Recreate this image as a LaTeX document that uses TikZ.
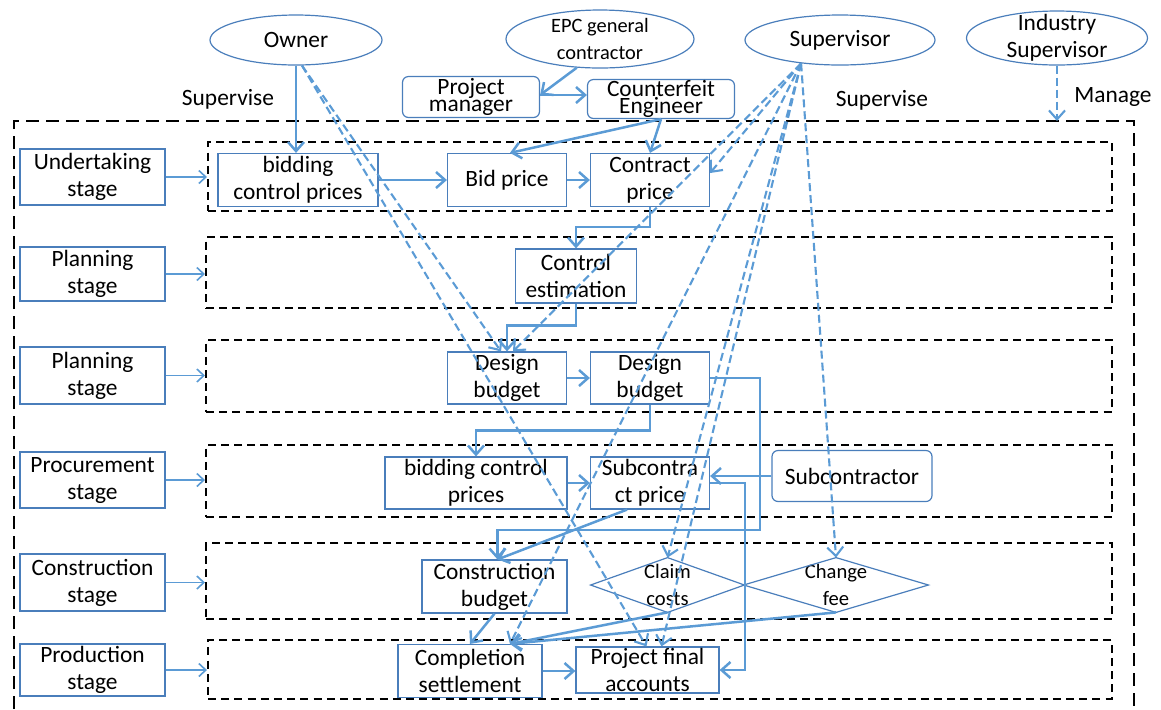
\documentclass[tikz,border=0pt]{standalone}
\usepackage{fontspec}
\setmainfont{Carlito}
\usetikzlibrary{arrows.meta,calc,shapes.geometric}
\definecolor{lblue}{HTML}{5B9BD5}
\definecolor{bblue}{HTML}{4A7EBB}
\tikzset{
  sz/.style 2 args={minimum width=#1*0.5pt,minimum height=#2*0.5pt},
  box/.style={draw=bblue,line width=0.6pt,inner sep=0pt,align=center,text=black},
  rbox/.style={box,rounded corners=3pt},
  ell/.style={box,ellipse},
  dtext/.style={inner sep=0pt,align=center,font=\fontsize{10.3}{13.5}\selectfont},
  dia/.style={draw=bblue,line width=0.6pt},
  grp/.style={draw=black,line width=1pt,dash pattern=on 4pt off 2.6pt,inner sep=0pt},
  outer/.style={draw=black,line width=1.25pt,dash pattern=on 6.5pt off 3.5pt},
  conn/.style={draw=lblue,line width=1.25pt,-{Straight Barb[length=4.5pt,width=8pt]}},
  sconn/.style={draw=lblue,line width=0.8pt,-{Straight Barb[length=3.5pt,width=6.5pt]}},
  dconn/.style={conn,line width=1.05pt,dash pattern=on 4pt off 2pt},
  lbl/.style={inner sep=0pt}
}
\begin{document}
\begin{tikzpicture}[x=0.5pt,y=-0.5pt,font=\fontsize{11.7}{13.5}\selectfont]
\useasboundingbox (0,0) rectangle (1161,709);

% outer frame (open at bottom)
\coordinate (obl) at (14,709);
\coordinate (otl) at (14,121);
\coordinate (otr) at (1134,121);
\coordinate (obr) at (1134,709);
\draw[outer] (obl) -- (otl) -- (otr) -- (obr);

% stage groups
\node[grp,sz={904}{69}] (r1) at (660,176.5) {};
\node[grp,sz={906}{71}] (r2) at (659,272.5) {};
\node[grp,sz={906}{72}] (r3) at (659,376) {};
\node[grp,sz={906}{72}] (r4) at (659,481) {};
\node[grp,sz={906}{76}] (r5) at (659,581) {};
\node[grp,sz={904}{59}] (r6) at (660,669.5) {};

% stage boxes
\node[box,sz={145}{56}] (s1) at (92.5,177) {Undertaking\\stage};
\node[box,sz={145}{54}] (s2) at (92.5,274) {Planning\\stage};
\node[box,sz={145}{57}] (s3) at (92.5,375.5) {Planning\\stage};
\node[box,sz={145}{56}] (s4) at (92.5,480) {Procurement\\stage};
\node[box,sz={145}{57}] (s5) at (92.5,582.5) {Construction\\stage};
\node[box,sz={145}{52}] (s6) at (92.5,670) {Production\\stage};

\foreach \s/\r in {s1/r1,s2/r2,s3/r3,s4/r4,s5/r5,s6/r6}
  \draw[sconn] (\s.east) -- (\s.east -| \r.west);

% top actors
\node[ell,sz={172}{50}] (owner) at (296,40) {Owner};
\node[ell,sz={188}{58},label={[align=center,font=\fontsize{10.2}{13.5}\selectfont]center:EPC general\\contractor}] (epc) at (600,39) {};
\node[ell,sz={190}{50}] (sup) at (840,40) {Supervisor};
\node[ell,sz={181}{54},label={[align=center]center:Industry\\Supervisor}] (isup) at (1057,38) {};
\node[rbox,sz={137}{41}] (pm) at (471,97) {Project\\[-4.6pt]manager};
\node[rbox,sz={147}{39}] (ce) at (661,99) {Counterfeit\\[-4.6pt]Engineer};

\node[lbl] (l1) at (228,99) {Supervise};
\node[lbl] (l2) at (882,100) {Supervise};
\node[lbl] (l3) at (1113,97) {Manage};

% content boxes
\node[box,sz={160}{53}] (bcp1) at (298,180) {bidding\\control prices};
\node[box,sz={119}{53}] (bid) at (507,180) {Bid price};
\node[box,sz={119}{53}] (con) at (650,180) {Contract\\price};
\node[box,sz={121}{54}] (est) at (576,276) {Control\\estimation};
\node[box,sz={119}{52}] (db1) at (507,378) {Design\\budget};
\node[box,sz={119}{52}] (db2) at (650,378) {Design\\budget};
\node[box,sz={182}{52}] (bcp2) at (476,483) {bidding control\\prices};
\node[box,sz={119}{52}] (sp) at (650,483) {Subcontra\\ct price};
\node[rbox,sz={160}{51}] (sub) at (852,476) {Subcontractor};
\node[box,sz={145}{53}] (cb) at (494.5,586.5) {Construction\\budget};
\node[dtext,sz={153}{54}] (claim) at (667.5,585) {Claim\\costs};
\draw[dia] (claim.north) -- (claim.east) -- (claim.south) -- (claim.west) -- cycle;
\node[dtext,sz={184}{54}] (chg) at (836,585) {Change\\fee};
\draw[dia] (chg.north) -- (chg.east) -- (chg.south) -- (chg.west) -- cycle;
\node[box,sz={144}{53}] (comp) at (470,671) {Completion\\settlement};
\node[box,sz={143}{46}] (pfa) at (647.5,670) {Project final\\accounts};

% solid connectors
\draw[conn] (owner.south) -- (owner.south |- bcp1.north);
\draw[conn] (epc.231) -- ([yshift=1pt]pm.east);
\draw[conn] ([yshift=1pt]pm.east) -- ([yshift=1pt]pm.east -| ce.west);
\draw[conn] (ce.south) -- ([xshift=1.5pt]bid.north);
\draw[conn] (ce.south) -- (con.north);
\draw[conn] (bcp1.east) -- (bid.west);
\draw[conn] (bid.east) -- (con.west);
\draw[conn] (con.south) -- ++(0,20) -| (est.north);
\draw[conn] (est.south) -- ++(0,22) -| (db1.north);
\draw[conn] (db1.east) -- (db2.west);
\draw[conn] (db2.south) -- ++(0,26) -| (bcp2.north);
\draw[conn] (bcp2.east) -- (sp.west);
\draw[conn] (sub.west) -- (sub.west -| sp.east);
\draw[conn] (db2.east) -- ++(50,0) -- ++(0,152) -| ([xshift=1.5pt]cb.north);
\draw[conn] ([xshift=-11.5pt]sp.south) -- ([xshift=1.5pt]cb.north);
\draw[conn] (sp.east) -- ++(35,0) |- (pfa.east);
\draw[conn] (cb.south) -- (comp.north);
\draw[conn] (claim.south) -- ([xshift=20pt]comp.north);
\draw[conn] (chg.south) -- ([xshift=20pt]comp.north);
\draw[conn] (comp.east) -- (comp.east -| pfa.west);

% dashed connectors
\coordinate (ow) at ([xshift=3pt]owner.south);
\coordinate (sv) at (sup.211);
\draw[dconn] (ow) -- ([xshift=-3pt]db1.north);
\draw[dconn] (ow) -- ([xshift=-0.5pt]pfa.north);
\draw[dconn] (sv) -- ([yshift=3.5pt]con.east);
\draw[dconn] (sv) -- ([xshift=3pt]db1.north);
\draw[dconn] (sv) -- ([xshift=20pt]comp.north);
\draw[dconn] (sv) -- (claim.north);
\draw[dconn] (sv) -- ([xshift=7pt]pfa.north);
\draw[dconn] (sv) -- (chg.north);
\draw[dconn] (isup.south) -- (isup.south |- otr);
\end{tikzpicture}
\end{document}
